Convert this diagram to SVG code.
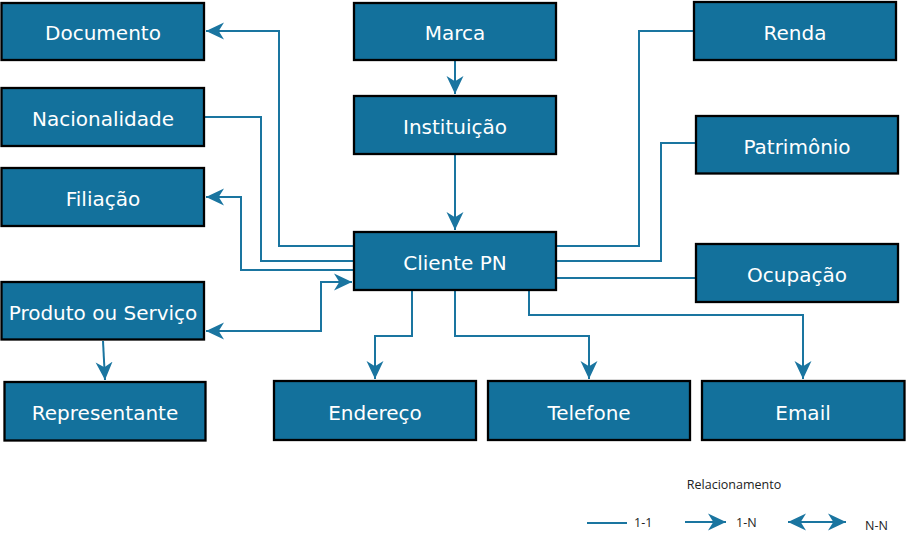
<svg xmlns="http://www.w3.org/2000/svg" width="908" height="544" viewBox="0 0 908 544">
<style>
.box{fill:#13719c;stroke:#000;stroke-width:2.3}
.lbl{font-family:"DejaVu Sans",Verdana,sans-serif;font-size:20px;fill:#fff;text-anchor:middle}
.ln{fill:none;stroke:#1a75a0;stroke-width:2}
.arr{marker-end:url(#ah)}
.leg{font-family:"Open Sans","DejaVu Sans",sans-serif;font-size:12.5px;fill:#222}
</style>
<defs>
<marker id="ah" markerUnits="userSpaceOnUse" markerWidth="18" markerHeight="18" viewBox="0 0 17 16" refX="17" refY="8" orient="auto-start-reverse">
<path d="M0,0 L17,8 L0,16 L5,8 Z" fill="#1a75a0"/>
</marker>
</defs>
<g id="connectors">
<path class="ln arr" d="M353,246 H279 V31 H206"/>
<path class="ln" d="M205,117 H261 V261 H353"/>
<path class="ln arr" d="M353,270 H241 V197 H206"/>
<path class="ln arr" d="M206,331 H321 V282 H352" marker-start="url(#ah)"/>
<path class="ln arr" d="M103,341 L105,380"/>
<path class="ln arr" d="M455,61 V94"/>
<path class="ln arr" d="M455,155 V230"/>
<path class="ln" d="M557,246 H639 V31 H693"/>
<path class="ln" d="M557,261 H661 V143 H695"/>
<path class="ln" d="M557,278 H695"/>
<path class="ln arr" d="M412,291 V336 H375 V379"/>
<path class="ln arr" d="M455,291 V336 H589 V379"/>
<path class="ln arr" d="M529,291 V315 H803 V379"/>
</g>
<g id="documento"><rect class="box" x="1.5" y="3" width="202.5" height="57"/><text class="lbl" x="103" y="40">Documento</text></g>
<g id="nacionalidade"><rect class="box" x="1.5" y="88" width="202.5" height="58"/><text class="lbl" x="103" y="125.5">Nacionalidade</text></g>
<g id="filiacao"><rect class="box" x="1.5" y="168" width="202.5" height="58"/><text class="lbl" x="103" y="205.5">Filiação</text></g>
<g id="produto"><rect class="box" x="1.5" y="282" width="202.5" height="57.5"/><text class="lbl" x="103" y="319.5">Produto ou Serviço</text></g>
<g id="representante"><rect class="box" x="4.5" y="382" width="201" height="58.5"/><text class="lbl" x="105" y="420">Representante</text></g>
<g id="marca"><rect class="box" x="354" y="3" width="202" height="57"/><text class="lbl" x="455" y="40">Marca</text></g>
<g id="instituicao"><rect class="box" x="354" y="96" width="202" height="58"/><text class="lbl" x="455" y="134">Instituição</text></g>
<g id="cliente"><rect class="box" x="354" y="232" width="202" height="58"/><text class="lbl" x="455" y="270">Cliente PN</text></g>
<g id="renda"><rect class="box" x="694" y="2" width="202" height="58"/><text class="lbl" x="795" y="40">Renda</text></g>
<g id="patrimonio"><rect class="box" x="696" y="116" width="202" height="57.5"/><text class="lbl" x="797" y="154">Patrimônio</text></g>
<g id="ocupacao"><rect class="box" x="696" y="244" width="202" height="58"/><text class="lbl" x="797" y="282">Ocupação</text></g>
<g id="endereco"><rect class="box" x="274" y="381" width="202" height="59"/><text class="lbl" x="375" y="420">Endereço</text></g>
<g id="telefone"><rect class="box" x="488" y="381" width="202" height="59"/><text class="lbl" x="589" y="420">Telefone</text></g>
<g id="email"><rect class="box" x="702" y="381" width="202.5" height="59"/><text class="lbl" x="803" y="420">Email</text></g>
<g id="legenda">
<text class="leg" x="734" y="489" text-anchor="middle">Relacionamento</text>
<path class="ln" d="M587,523 H627"/>
<text class="leg" x="634" y="527">1-1</text>
<path class="ln arr" d="M685,522 H726"/>
<text class="leg" x="736" y="527">1-N</text>
<path class="ln arr" d="M788,522 H846" marker-start="url(#ah)"/>
<text class="leg" x="865" y="530">N-N</text>
</g>
</svg>
